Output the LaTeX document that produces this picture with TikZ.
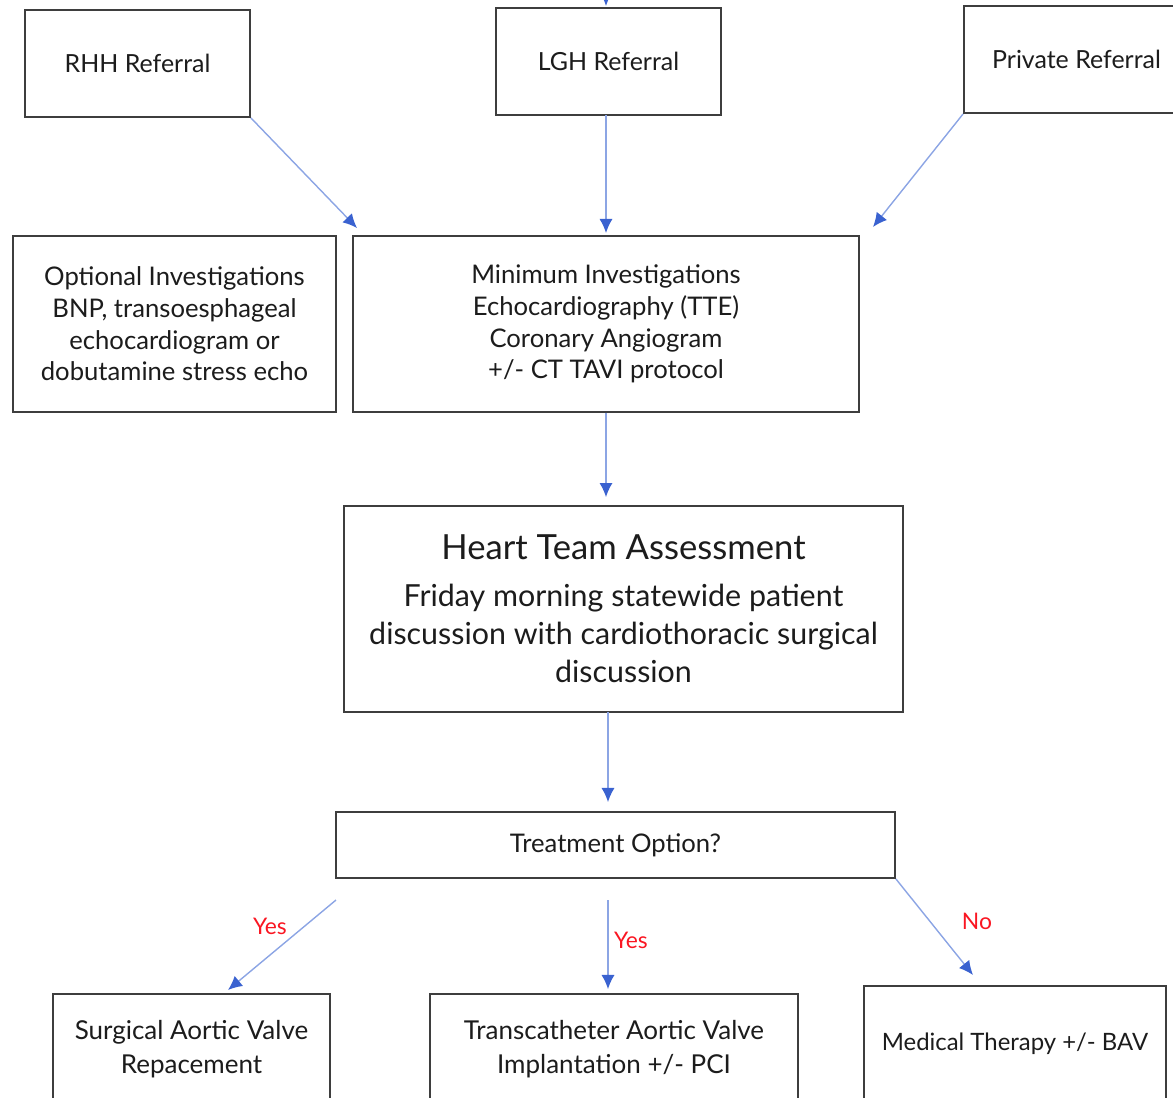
\documentclass[tikz,border=0pt]{standalone}
\usepackage{fontspec}
\setmainfont{Lato}
\usetikzlibrary{arrows.meta}
\definecolor{boxgrey}{RGB}{62,62,62}
\definecolor{linkblue}{RGB}{140,165,228}
\definecolor{tipblue}{RGB}{58,98,208}
\definecolor{answred}{RGB}{250,22,34}
\definecolor{textdark}{RGB}{28,28,28}

\tikzset{
  box/.style={draw=boxgrey, line width=1.1pt, fill=white, align=center,
    text=textdark, inner sep=0pt},
  link/.style={draw=linkblue, line width=0.8pt,
    -{Latex[length=8pt,width=7.5pt,color=tipblue]}},
  answer/.style={text=answred, font=\fontsize{13}{15}\selectfont}
}
\newcommand{\reftxt}{\fontsize{14.2}{18}\selectfont}
\newcommand{\smalltxt}{\fontsize{14.6}{18}\selectfont}
\newcommand{\outtxt}{\fontsize{14.8}{19.4}\selectfont}
\newcommand{\bodytxt}{\fontsize{17.3}{21.6}\selectfont}

\begin{document}
\begin{tikzpicture}[x=0.02cm,y=-0.02cm]
        \useasboundingbox (0,0) rectangle (1173,1098);
        \clip (0,0) rectangle (1173,1098);

        % Referral sources
        \node[box, minimum width=4.5cm, minimum height=2.14cm, font=\reftxt]
          (rhh) at (137.5,63.5) {RHH Referral};
        \node[box, minimum width=4.5cm, minimum height=2.14cm, font=\reftxt]
          (lgh) at (608.5,61.5) {LGH Referral};
        \node[box, minimum width=4.5cm, minimum height=2.14cm, font=\reftxt]
          (priv) at (1076.5,59.5) {Private Referral};

        % Investigations
        \node[box, minimum width=6.46cm, minimum height=3.52cm, font=\smalltxt]
          (opt) at (174.5,324) {Optional Investigations\\BNP, transoesphageal\\echocardiogram or\\dobutamine stress echo};
        \node[box, minimum width=10.12cm, minimum height=3.52cm, font=\smalltxt]
          (mini) at (606,324) {Minimum Investigations\\Echocardiography (TTE)\\Coronary Angiogram\\+/- CT TAVI protocol};

        % Heart team
        \node[box, minimum width=11.18cm, minimum height=4.12cm, font=\bodytxt]
          (heart) at (623.5,609) {{\fontsize{19.7}{24}\selectfont Heart Team Assessment}\\[5pt]
          Friday morning statewide patient\\discussion with cardiothoracic surgical\\discussion};

        % Decision
        \node[box, minimum width=11.18cm, minimum height=1.32cm, font=\smalltxt]
          (treat) at (615.5,845) {Treatment Option?};

        % Outcomes (cut off at the bottom)
        \node[box, minimum width=5.54cm, minimum height=2.2cm, font=\outtxt]
          (surg) at (191.5,1049) {Surgical Aortic Valve\\Repacement};
        \node[box, minimum width=7.36cm, minimum height=2.2cm, font=\outtxt]
          (tavi) at (614,1049) {Transcatheter Aortic Valve\\Implantation +/- PCI};
        \node[box, minimum width=6.04cm, minimum height=2.32cm, font=\fontsize{13.6}{17}\selectfont]
          (med) at (1015,1044) {Medical Therapy +/- BAV};

        % free arrow ends
        \coordinate (intop) at (606,-30);
        \coordinate (rhhend) at (357,228);
        \coordinate (privend) at (873,227);
        \coordinate (heartout) at (608,712);
        \coordinate (yesleft) at (336,900);
        \coordinate (yesmid) at (608,900);
        \coordinate (noend) at (973,975);

        % Arrows
        \draw[link] (intop) -- (606,6);
        \draw[link] (rhh.south east) -- (rhhend);
        \draw[link] (606,115) -- (606,233);
        \draw[link] (priv.south west) -- (privend);
        \draw[link] (mini.south) -- ([yshift=0.16cm]mini.south |- heart.north);
        \draw[link] (heartout) -- ([yshift=0.18cm]heartout |- treat.north);
        \draw[link] (yesleft) -- (228,990);
        \draw[link] (yesmid) -- ([yshift=0.08cm]yesmid |- tavi.north);
        \draw[link] (treat.south east) -- (noend);

        % answer labels
        \node[answer] (yes1) at (270,926) {Yes};
        \node[answer] (yes2) at (631,940) {Yes};
        \node[answer] (no1) at (977,921) {No};

\end{tikzpicture}
\end{document}
